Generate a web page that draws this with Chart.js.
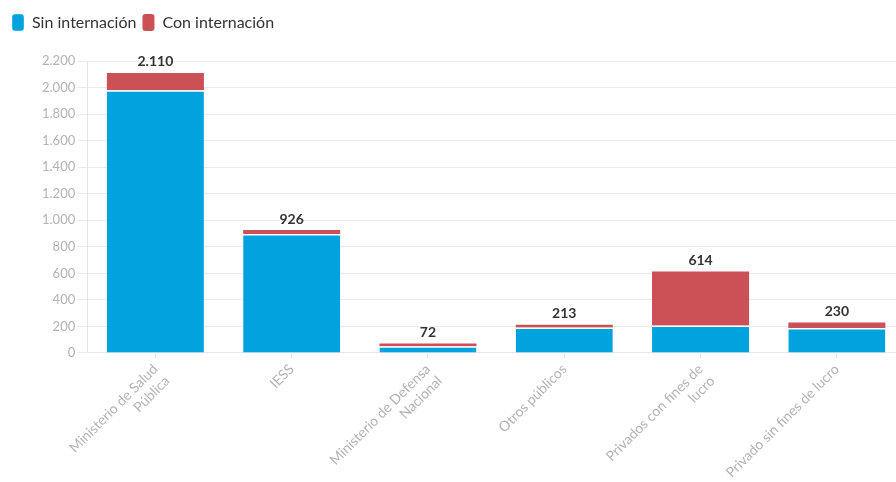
<!DOCTYPE html>
<html>
<head>
<meta charset="utf-8">
<script src="https://cdn.jsdelivr.net/npm/chart.js@4/dist/chart.umd.min.js"></script>
<style>
  html, body { margin: 0; padding: 0; background: #fff; overflow: hidden; }
  #wrap { width: 905px; height: 482px; }
</style>
</head>
<body>
<div id="wrap"><canvas id="grafico"></canvas></div>
<script>
const categorias = [
  ['Ministerio de Salud', 'Pública'],
  'IESS',
  ['Ministerio de Defensa', 'Nacional'],
  'Otros públicos',
  ['Privados con fines de', 'lucro'],
  'Privado sin fines de lucro'
];
const sinInternacion = [1980, 896, 50, 192, 207, 188];
const conInternacion = [130, 30, 22, 21, 407, 42];
const ticksY = [0, 200, 400, 600, 800, 1000, 1200, 1400, 1600, 1800, 2000, 2200];

function formato(v) {
  return Number(v).toLocaleString('de-DE');
}

// totales encima de cada barra
const totalesPlugin = {
  id: 'totales',
  afterDatasetsDraw(chart) {
    const ctx = chart.ctx;
    const meta = chart.getDatasetMeta(1);
    ctx.save();
    ctx.font = 'bold 14px Lato';
    ctx.fillStyle = '#333333';
    ctx.textAlign = 'center';
    ctx.textBaseline = 'bottom';
    meta.data.forEach(function(bar, i) {
      let total = sinInternacion[i] + conInternacion[i];
      ctx.fillText(formato(total), bar.x, bar.y - 4);
    });
    ctx.restore();
  }
};

// espacio extra debajo de la leyenda
const leyendaPlugin = {
  id: 'leyendaAlto',
  beforeInit(chart) {
    const fitOriginal = chart.legend.fit;
    chart.legend.fit = function() {
      fitOriginal.bind(chart.legend)();
      this.height += 20;
    };
  }
};

let ctx = document.getElementById('grafico').getContext('2d');
const data = {
  labels: categorias,
  datasets: [{
    label: 'Sin internación',
    data: sinInternacion,
    backgroundColor: '#00a3dd',
    borderColor: '#ffffff',
    borderWidth: {top: 1.5, left: 0, right: 0, bottom: 0},
    borderSkipped: false
  }, {
    label: 'Con internación',
    data: conInternacion,
    backgroundColor: '#cc5157',
    borderWidth: 0
  }]
};
const config = {
  type: 'bar',
  data: data,
  plugins: [totalesPlugin, leyendaPlugin],
  options: {
    responsive: true,
    maintainAspectRatio: false,
    animation: { duration: 0 },
    layout: {
      padding: { left: 6, right: 0, top: 8, bottom: -13 }
    },
    datasets: {
      bar: { barPercentage: 0.8, categoryPercentage: 0.89 }
    },
    plugins: {
      tooltip: false,
      legend: {
        position: 'top',
        align: 'start',
        labels: {
          boxWidth: 12,
          boxHeight: 17,
          useBorderRadius: true,
          borderRadius: 3,
          padding: 6,
          color: '#333333',
          font: { family: 'Lato', size: 16 }
        }
      }
    },
    scales: {
      x: {
        stacked: true,
        grid: {
          offset: false,
          drawOnChartArea: false,
          drawTicks: true,
          tickLength: 6,
          color: '#e6e6e6'
        },
        border: { color: '#e6e6e6' },
        ticks: {
          minRotation: 45,
          maxRotation: 45,
          color: '#b3b3b3',
          padding: 2,
          font: { family: 'Lato', size: 14 }
        }
      },
      y: {
        stacked: true,
        min: 0,
        max: 2200,
        afterBuildTicks: function(axis) {
          axis.ticks = ticksY.map(function(v) { return { value: v }; });
        },
        afterFit: function(axis) {
          axis.width += 34;
        },
        grid: {
          color: '#ebebeb',
          tickLength: 10
        },
        border: { color: '#e6e6e6' },
        ticks: {
          color: '#b3b3b3',
          padding: 2,
          font: { family: 'Lato', size: 13 },
          callback: function(v) { return formato(v); }
        }
      }
    }
  }
};
new Chart(ctx, config);
</script>
</body>
</html>
